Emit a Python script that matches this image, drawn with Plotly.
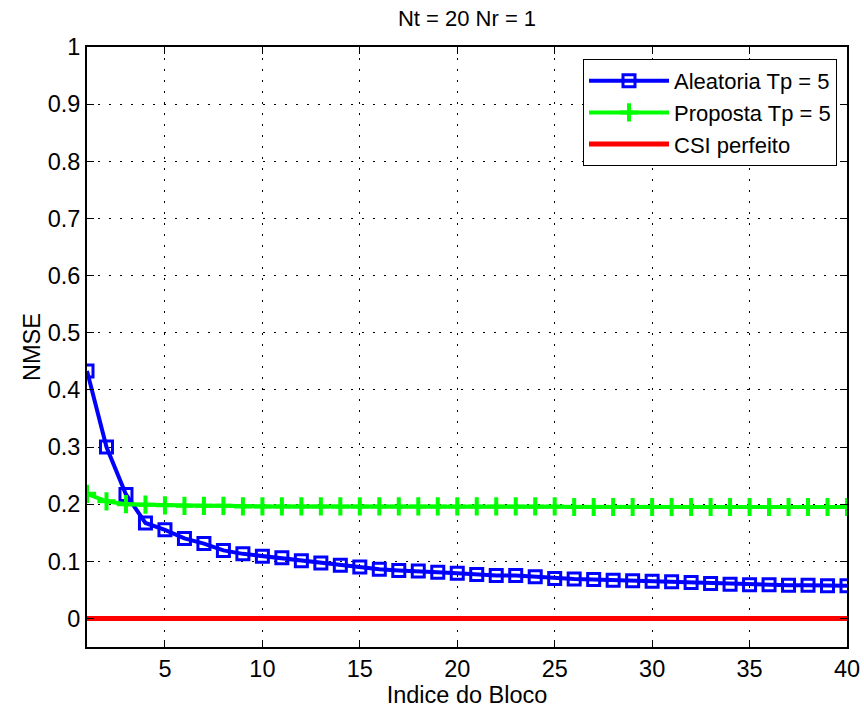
import plotly.graph_objects as go

# Block index and NMSE values per scheme
blocks = list(range(1, 41))

nmse_aleatoria = [0.433, 0.300, 0.217, 0.167, 0.155, 0.140, 0.131, 0.119, 0.113, 0.109,
                  0.106, 0.101, 0.097, 0.093, 0.090, 0.086, 0.084, 0.083, 0.081, 0.079,
                  0.077, 0.075, 0.075, 0.073, 0.070, 0.069, 0.068, 0.067, 0.066, 0.065,
                  0.064, 0.063, 0.061, 0.060, 0.059, 0.059, 0.058, 0.058, 0.057, 0.057]

nmse_proposta = [0.218, 0.205, 0.200, 0.199, 0.198, 0.197, 0.197, 0.197, 0.196, 0.196,
                 0.196, 0.196, 0.196, 0.196, 0.196, 0.196, 0.196, 0.196, 0.196, 0.196,
                 0.196, 0.196, 0.196, 0.196, 0.196, 0.195, 0.195, 0.195, 0.195, 0.195,
                 0.195, 0.195, 0.195, 0.195, 0.195, 0.195, 0.195, 0.195, 0.195, 0.195]

nmse_csi = [0.0] * 40

series_names = ["Aleatoria Tp = 5", "Proposta Tp = 5", "CSI perfeito"]

x_ticks = [5, 10, 15, 20, 25, 30, 35, 40]
y_ticks = [0, 0.1, 0.2, 0.3, 0.4, 0.5, 0.6, 0.7, 0.8, 0.9, 1]
y_tick_text = ["0", "0.1", "0.2", "0.3", "0.4", "0.5", "0.6", "0.7", "0.8", "0.9", "1"]

FONT = "Liberation Sans, Arial, sans-serif"
FS = 23.5

fig = go.Figure()

fig.add_trace(go.Scatter(
    x=blocks, y=nmse_aleatoria, name=series_names[0], mode="lines+markers",
    line=dict(color="#0000ff", width=4),
    marker=dict(symbol="square-open", size=12, color="#0000ff",
                line=dict(color="#0000ff", width=3)),
))

fig.add_trace(go.Scatter(
    x=blocks, y=nmse_proposta, name=series_names[1], mode="lines+markers",
    line=dict(color="#00ff00", width=4),
    marker=dict(symbol="cross-thin", size=13, color="#00ff00",
                line=dict(color="#00ff00", width=4)),
))

fig.add_trace(go.Scatter(
    x=blocks, y=nmse_csi, name=series_names[2], mode="lines",
    line=dict(color="#ff0000", width=5),
))

axis_common = dict(
    showline=True, linecolor="black", linewidth=2, mirror="ticks",
    ticks="inside", ticklen=7, tickwidth=1, tickcolor="black",
    showgrid=True, gridcolor="black", gridwidth=1, griddash="2px,9px",
    zeroline=False, automargin=False,
    tickfont=dict(family=FONT, size=FS, color="black"),
)

fig.update_xaxes(
    range=[1, 40], tickvals=x_ticks,
    title=dict(text="Indice do Bloco", font=dict(family=FONT, size=FS, color="black"),
               standoff=2),
    **axis_common,
)
fig.update_yaxes(
    range=[-0.05, 1], tickvals=y_ticks, ticktext=y_tick_text,
    title=dict(text="NMSE", font=dict(family=FONT, size=FS, color="black"),
               standoff=0),
    **axis_common,
)

fig.update_layout(
    width=864, height=711,
    margin=dict(l=87, r=17, t=47, b=64),
    paper_bgcolor="white", plot_bgcolor="white",
    title=dict(text="Nt = 20 Nr = 1", x=(87 + 847) / 2 / 864, xanchor="center",
               y=1 - 18 / 711, yanchor="middle",
               font=dict(family=FONT, size=22, color="black")),
    legend=dict(
        x=(837 - 87) / 760, xanchor="right", y=(647 - 59) / 600, yanchor="top",
        bgcolor="white", bordercolor="black", borderwidth=1,
        font=dict(family=FONT, size=22, color="black"),
        itemwidth=80, tracegroupgap=0,
    ),
    showlegend=True,
)

fig.write_html("out.html")
